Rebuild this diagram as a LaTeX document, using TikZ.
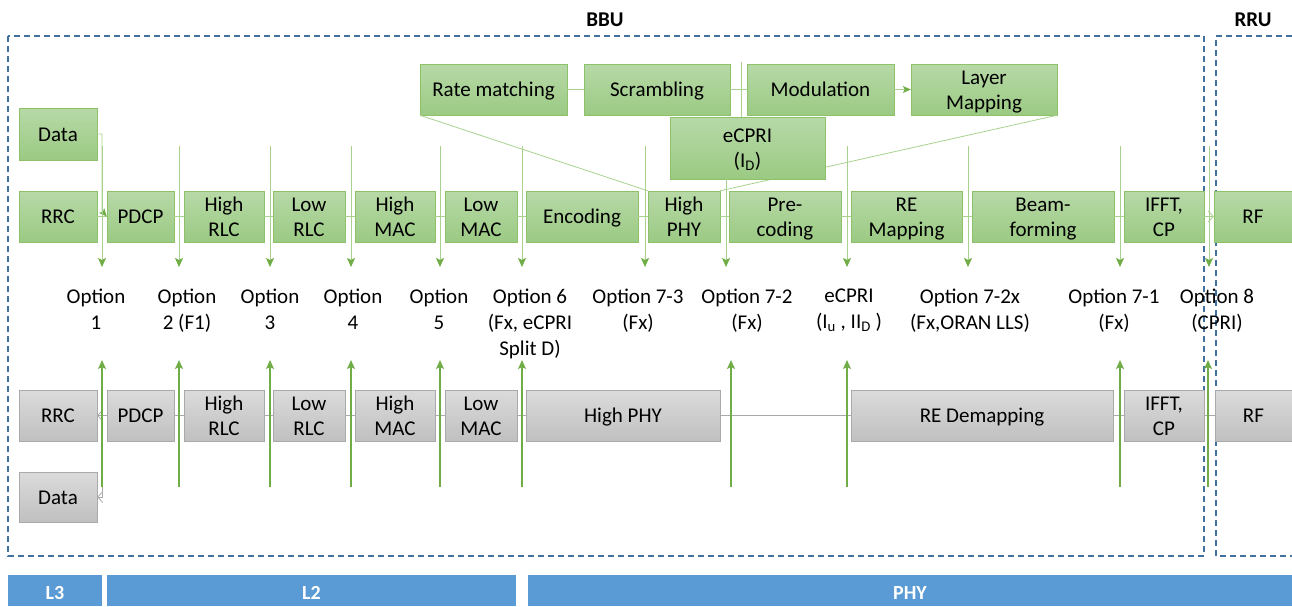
\documentclass[tikz,border=0pt]{standalone}
\usepackage{fontspec}
\setmainfont{Carlito}
\usetikzlibrary{arrows.meta}

\definecolor{dltop}{RGB}{183,217,167}
\definecolor{dlbot}{RGB}{155,202,131}
\definecolor{dlline}{RGB}{141,194,107}
\definecolor{ultop}{RGB}{219,219,219}
\definecolor{ulbot}{RGB}{192,192,192}
\definecolor{ulline}{RGB}{170,170,170}
\definecolor{splitgreen}{RGB}{112,173,71}
\definecolor{linkgreen}{RGB}{169,209,142}
\definecolor{frameblue}{RGB}{65,113,156}
\definecolor{barblue}{RGB}{91,155,213}

\begin{document}
\begin{tikzpicture}[x=1pt,y=-1pt,>={Stealth[length=9pt,width=8pt,inset=2pt]},
		one line/.style={text height=14.5pt,text depth=0pt},
		two lines/.style={text height=39.5pt,text depth=0pt},
		dl block/.style={draw=dlline,top color=dltop,bottom color=dlbot,inner sep=0,
			align=center,font=\fontsize{21}{25}\selectfont,one line},
		ul block/.style={draw=ulline,top color=ultop,bottom color=ulbot,inner sep=0,
			align=center,font=\fontsize{21}{25}\selectfont,one line},
		opt label/.style={anchor=north,inner sep=0,align=center,font=\fontsize{21}{26}\selectfont},
		unit label/.style={inner sep=0,font=\fontsize{21}{25}\selectfont\bfseries},
		layer bar/.style={fill=barblue,inner sep=0,text=white,font=\fontsize{20}{24}\selectfont\bfseries,
			text height=17pt,text depth=0pt},
		frame/.style={draw=frameblue,line width=1.5pt,dash pattern=on 6pt off 4pt},
		dl link/.style={draw=linkgreen,line width=0.8pt},
		ul link/.style={draw=ulline,line width=0.8pt},
		open tip/.style={-{Straight Barb[length=5pt,width=11pt]}},
		dl split/.style={draw=linkgreen,line width=0.8pt,-{Stealth[length=9pt,width=8pt,inset=2pt,color=splitgreen]}},
		ul split/.style={draw=splitgreen,line width=2pt,->}]
	
	\useasboundingbox (0,0) rectangle (1292,606);
	
	% BBU / RRU frames
	\draw[frame] (8,36) rectangle (1204,556);
	\draw[frame] (1292,36) -- (1216,36) -- (1216,556) -- (1292,556);
	\node[unit label] (bbu) at (605,20) {BBU};
	\node[unit label] (rru) at (1253,20) {RRU};
	
	% downlink chain
	\node[dl block,minimum width=78,minimum height=52] (dldata) at (58,134) {Data};
	\node[dl block,minimum width=78,minimum height=51] (dlrrc) at (58,216.5) {RRC};
	\node[dl block,minimum width=67,minimum height=51] (dlpdcp) at (140.5,216.5) {PDCP};
	\node[dl block,two lines,minimum width=80,minimum height=51] (dlhrlc) at (224,216.5) {High\\RLC};
	\node[dl block,two lines,minimum width=72,minimum height=51] (dllrlc) at (309,216.5) {Low\\RLC};
	\node[dl block,two lines,minimum width=80,minimum height=51] (dlhmac) at (395,216.5) {High\\MAC};
	\node[dl block,two lines,minimum width=72,minimum height=51] (dllmac) at (481,216.5) {Low\\MAC};
	\node[dl block,minimum width=112,minimum height=51] (dlenc) at (582,216.5) {Encoding};
	\node[dl block,two lines,minimum width=72,minimum height=51] (dlhphy) at (684,216.5) {High\\PHY};
	\node[dl block,two lines,minimum width=112,minimum height=51] (dlprec) at (785,216.5) {Pre-\\coding};
	\node[dl block,two lines,minimum width=111,minimum height=51] (dlrem) at (906.5,216.5) {RE\\Mapping};
	\node[dl block,two lines,minimum width=142,minimum height=51] (dlbeam) at (1043,216.5) {Beam-\\forming};
	\node[dl block,two lines,minimum width=80,minimum height=51] (dlifft) at (1164,216.5) {IFFT,\\CP};
	\node[dl block,minimum width=78,minimum height=51] (dlrf) at (1253,216.5) {RF};
	
	% high PHY detail
	\node[dl block,minimum width=147,minimum height=51] (rate) at (493.5,89.5) {Rate matching};
	\node[dl block,minimum width=146,minimum height=51] (scr) at (657,89.5) {Scrambling};
	\node[dl block,minimum width=147,minimum height=51] (mod) at (820.5,89.5) {Modulation};
	\node[dl block,two lines,minimum width=146,minimum height=51] (layer) at (984,89.5) {Layer\\Mapping};
	
	\path[dl link] (rate) edge (scr)
	(scr) edge (mod);
	\draw[dl link,-{Stealth[length=8pt,width=7pt,inset=2pt,color=splitgreen]}] (mod) -- (layer);
	\draw[dl link] (rate.south west) -- (dlhphy.north west);
	\draw[dl link] (layer.south east) -- (dlhphy.north east);
	
	\coordinate (ecprin) at (741,62);
	\node[dl block,two lines,minimum width=155,minimum height=62] (ecpri) at (747.5,148) {eCPRI\\(I\textsubscript{D})};
	\draw[dl link] (ecprin) -- (ecprin |- ecpri.north);
	
	\path[dl link] (dlrrc) edge (dlpdcp)
	(dlpdcp) edge (dlhrlc)
	(dlhrlc) edge (dllrlc)
	(dllrlc) edge (dlhmac)
	(dlhmac) edge (dllmac)
	(dllmac) edge (dlenc)
	(dlenc) edge (dlhphy)
	(dlhphy) edge (dlprec)
	(dlprec) edge (dlrem)
	(dlrem) edge (dlbeam)
	(dlbeam) edge (dlifft);
	\draw[dl link,open tip] (dlifft) -- (dlrf);
	\coordinate (dlturn) at (102,211);
	\draw[dl link,-{Stealth[length=8pt,width=7pt,inset=2pt,color=splitgreen]}] (dldata.east) -| (dlturn) -- (dlpdcp.west);
	
	% uplink chain
	\node[ul block,minimum width=78,minimum height=51] (ulrrc) at (58,415.5) {RRC};
	\node[ul block,minimum width=67,minimum height=51] (ulpdcp) at (140.5,415.5) {PDCP};
	\node[ul block,two lines,minimum width=80,minimum height=51] (ulhrlc) at (224,415.5) {High\\RLC};
	\node[ul block,two lines,minimum width=72,minimum height=51] (ullrlc) at (309,415.5) {Low\\RLC};
	\node[ul block,two lines,minimum width=80,minimum height=51] (ulhmac) at (395,415.5) {High\\MAC};
	\node[ul block,two lines,minimum width=72,minimum height=51] (ullmac) at (481,415.5) {Low\\MAC};
	\node[ul block,minimum width=194,minimum height=51] (ulhphy) at (623,415.5) {High PHY};
	\node[ul block,minimum width=262,minimum height=51] (ulredm) at (982,415.5) {RE Demapping};
	\node[ul block,two lines,minimum width=80,minimum height=51] (ulifft) at (1164,415.5) {IFFT,\\CP};
	\node[ul block,minimum width=77,minimum height=51] (ulrf) at (1253.5,415.5) {RF};
	\node[ul block,minimum width=78,minimum height=50] (uldata) at (58,497) {Data};
	
	\path[ul link] (ulrf) edge (ulifft)
	(ulifft) edge (ulredm)
	(ulredm) edge (ulhphy)
	(ulhphy) edge (ullmac)
	(ullmac) edge (ulhmac)
	(ulhmac) edge (ullrlc)
	(ullrlc) edge (ulhrlc)
	(ulhrlc) edge (ulpdcp);
	\draw[ul link,open tip] (ulpdcp) -- (ulrrc);
	\coordinate (ulturn) at (102,441);
	\draw[ul link,open tip] (ulturn) |- (uldata.east);
	
	% split options
	\foreach \n/\x in {1/102,2/179,3/270,4/351,5/440,6/522,73/645,ec/847,72x/968,71/1120,8/1209}{
		\coordinate (dn\n) at (\x,146);
		\coordinate (dn\n e) at (\x,267);
		\draw[dl split] (dn\n) -- (dn\n e);
	}
	\coordinate (dn72e) at (726,267);
	\draw[dl split] (dn72e |- ecpri.south) -- (dn72e);
	
	\foreach \n/\x in {1/102,2/179,3/270,4/351,5/440,6/522,72/731,ec/847,71/1120,8/1208}{
		\coordinate (up\n) at (\x,487);
		\coordinate (up\n e) at (\x,360);
		\draw[ul split] (up\n) -- (up\n e);
	}
	
	\node[opt label] (o1) at (96,289) {Option\\1};
	\node[opt label] (o2) at (187,289) {Option\\2 (F1)};
	\node[opt label] (o3) at (270,289) {Option\\3};
	\node[opt label] (o4) at (353,289) {Option\\4};
	\node[opt label] (o5) at (439,289) {Option\\5};
	\node[opt label] (o6) at (530,289) {Option 6\\(Fx, eCPRI\\Split D)};
	\node[opt label] (o73) at (638,289) {Option 7-3\\(Fx)};
	\node[opt label] (o72) at (747,289) {Option 7-2\\(Fx)};
	\node[opt label] (oec) at (849,289) {eCPRI\\(I\textsubscript{u} , II\textsubscript{D} )};
	\node[opt label] (o72x) at (970,289) {Option 7-2x\\(Fx,ORAN LLS)};
	\node[opt label] (o71) at (1114,289) {Option 7-1\\(Fx)};
	\node[opt label] (o8) at (1217,289) {Option 8\\(CPRI)};
	
	% layers
	\node[layer bar,minimum width=94,minimum height=31] (l3) at (55,590.5) {L3};
	\node[layer bar,minimum width=409,minimum height=31] (l2) at (311.5,590.5) {L2};
	\node[layer bar,minimum width=764,minimum height=31] (phy) at (910,590.5) {PHY};
	
\end{tikzpicture}
\end{document}
